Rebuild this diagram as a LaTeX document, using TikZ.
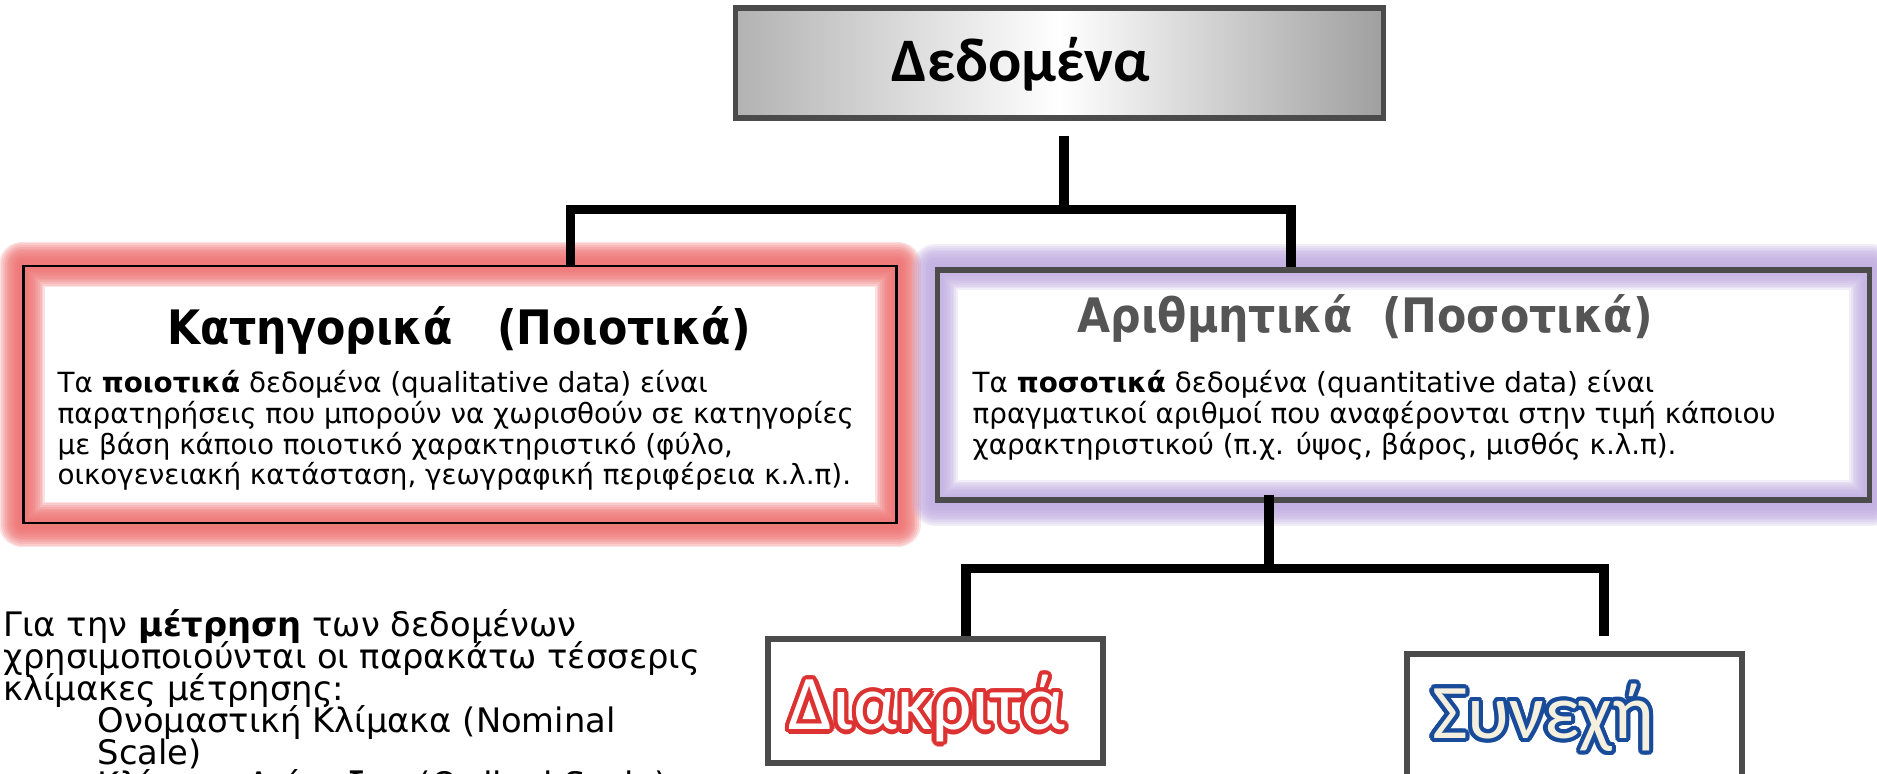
\documentclass[tikz,border=0pt]{standalone}
\usepackage{fontspec}
\setmainfont{DejaVu Sans}
\newfontfamily\calibri{Carlito}
\newfontfamily\condensed{DejaVu Sans Condensed}[BoldFont={DejaVu Sans Condensed Bold}]
\usepackage{contour}
\contourlength{1.2pt}
\usetikzlibrary{positioning,backgrounds}

\definecolor{glowred}{RGB}{238,112,112}
\definecolor{glowviolet}{RGB}{192,172,225}
\definecolor{boxgray}{RGB}{75,75,75}
\definecolor{headgray}{RGB}{85,85,85}
\definecolor{discred}{RGB}{220,50,50}
\definecolor{contblue}{RGB}{25,75,155}
\definecolor{contcream}{RGB}{245,240,222}

\newcommand\tightlines{\lineskiplimit-5pt\lineskip0pt}

\tikzset{
  conn/.style = {line width=2.6pt},
  greybox/.style = {draw=boxgray, line width=1.5pt, rectangle},
  bodytext/.style = {align=left, inner sep=0pt, font=\fontsize{7.9}{8.7}\selectfont\tightlines},
  headtext/.style = {inner sep=0pt, font=\condensed\fontsize{13.5}{14}\selectfont\bfseries},
  outlined/.style = {inner sep=0pt, font=\calibri\fontsize{22}{22}\selectfont},
}

\begin{document}
\begin{tikzpicture}[x=0.01cm, y=-0.01cm]
\useasboundingbox (0,0) rectangle (1877,774);
\clip (0,0) rectangle (1877,774);

% top box
\node[greybox, minimum width=6.47cm, minimum height=1.10cm,
      left color=gray!60, right color=gray!75, middle color=white] (data) at (1059.5,63) {};
\node[inner sep=0pt, font=\calibri\fontsize{17.6}{18}\selectfont\bfseries] (datalabel) at (1021,64) {Δεδομένα};

% qualitative
\node[draw=black, line width=0.8pt, minimum width=8.72cm, minimum height=2.57cm] (cat) at (460,394.5) {};
\node[headtext] (cattitle) at (459,330) {Κατηγορικά \ \ (Ποιοτικά)};
\node[bodytext, anchor=north west] (catbody) at (57,370) {Τα \textbf{ποιοτικά} δεδομένα (qualitative data) είναι\\
παρατηρήσεις που μπορούν να χωρισθούν σε κατηγορίες\\
με βάση κάποιο ποιοτικό χαρακτηριστικό (φύλο,\\
οικογενειακή κατάσταση, γεωγραφική περιφέρεια κ.λ.π).};

% quantitative
\node[greybox, minimum width=9.31cm, minimum height=2.30cm] (num) at (1403.5,385) {};
\node[headtext, text=headgray] (numtitle) at (1365,318) {Αριθμητικά \ (Ποσοτικά)};
\node[bodytext, anchor=north west] (numbody) at (972,370) {Τα \textbf{ποσοτικά} δεδομένα (quantitative data) είναι\\
πραγματικοί αριθμοί που αναφέρονται στην τιμή κάποιου\\
χαρακτηριστικού (π.χ. ύψος, βάρος, μισθός κ.λ.π).};

% discrete / continuous
\node[greybox, minimum width=3.35cm, minimum height=1.24cm] (disc) at (935.5,701) {};
\node[outlined, text=white] (disclabel) at (927,711) {\contour{discred}{Διακριτά}};
\node[greybox, minimum width=3.35cm, minimum height=1.36cm] (cont) at (1574.5,722) {};
\node[outlined, text=contcream] (contlabel) at (1543,720) {\contour{contblue}{Συνεχή}};

% scales
\node[align=left, inner sep=0pt, anchor=north west, font=\fontsize{9.6}{9.1}\selectfont\tightlines] (scales) at (3,609)
{Για την \textbf{μέτρηση} των δεδομένων\\
χρησιμοποιούνται οι παρακάτω τέσσερις\\
κλίμακες μέτρησης:\\
\hspace*{0.94cm}Ονομαστική Κλίμακα (Nominal\\
\hspace*{0.94cm}Scale)\\
\hspace*{0.94cm}Κλίμακα Διάταξης (Ordinal Scale)};

% glow
\begin{scope}[on background layer]
\foreach \w in {2,3,...,13} {
  \draw[glowred, opacity=0.2, line width=\w pt, line join=round] (cat.south west) rectangle (cat.north east);
  \draw[glowviolet, opacity=0.2, line width=\w pt, line join=round] (num.south west) rectangle (num.north east);
}
\end{scope}

% connectors
\draw[conn] ([xshift=0.045cm,yshift=-0.15cm]data.south) -- ++(0,74) -| ([xshift=1.1cm]cat.north);
\draw[conn] ([xshift=0.045cm,yshift=-0.15cm]data.south) -- ++(0,74) -| ([xshift=-1.125cm]num.north);
\draw[conn] ([xshift=-1.345cm,yshift=0.08cm]num.south) -- ++(0,74) -| ([xshift=0.305cm]disc.north);
\draw[conn] ([xshift=-1.345cm,yshift=0.08cm]num.south) -- ++(0,74) -| ([xshift=0.295cm,yshift=0.15cm]cont.north);

\end{tikzpicture}
\end{document}
